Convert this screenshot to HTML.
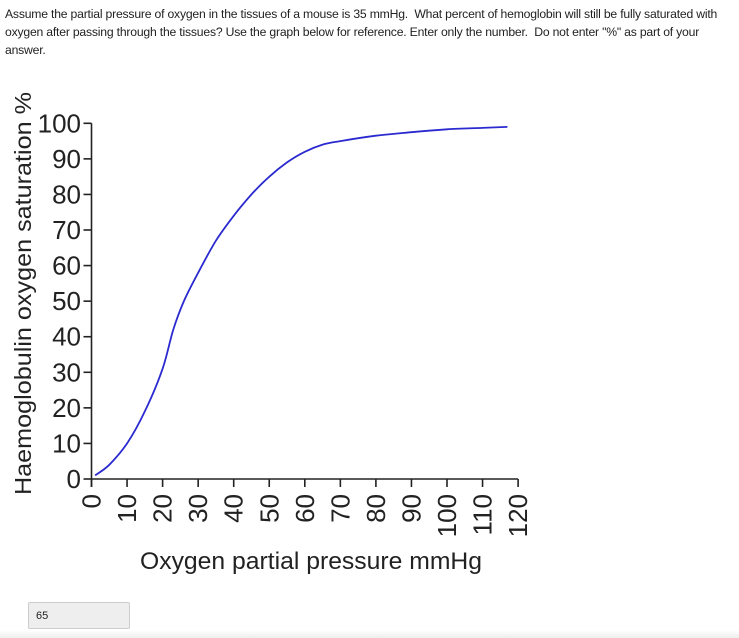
<!DOCTYPE html>
<html><head><meta charset="utf-8"><style>
body{margin:0;background:#fff;width:739px;height:638px;overflow:hidden;position:relative;font-family:"Liberation Sans",sans-serif}
#q{position:absolute;left:5px;top:5px;width:734px;font-size:12.2px;line-height:18px;color:#222;letter-spacing:-0.2px;white-space:nowrap}
#ans{position:absolute;left:28px;top:602px;width:102px;height:27px;background:#eee;border:1px solid #ccc;border-radius:2px;font-size:11px;line-height:27px;box-sizing:border-box;padding-left:7px;color:#222}
#foot{position:absolute;left:0;top:630px;width:739px;height:8px;background:linear-gradient(#fff,#eee)}
</style></head><body>
<div id="q">Assume the partial pressure of oxygen in the tissues of a mouse is 35 mmHg.&nbsp; What percent of hemoglobin will still be fully saturated with<br>oxygen after passing through the tissues? Use the graph below for reference. Enter only the number.&nbsp; Do not enter "%" as part of your<br>answer.</div>
<svg id="chart" width="739" height="638" style="position:absolute;left:0;top:0"></svg>
<div id="ans">65</div>
<div id="foot"></div>
<script>
const xTicks=[0,10,20,30,40,50,60,70,80,90,100,110,120];
const yTicks=[0,10,20,30,40,50,60,70,80,90,100];
const pressure=[1,5,10,15,20,23,26,30,35,40,45,50,55,60,65,70,80,90,100,110,117];
const saturation=[1,4,10,19,31,42,50,58,67,74,80,85,89,92,94,95,96.5,97.5,98.3,98.7,99];
const X=v=>91.5+v*3.555, Y=v=>479-v*3.557;
const NS='http://www.w3.org/2000/svg', svg=document.getElementById('chart');
function mk(t,a,txt){const e=document.createElementNS(NS,t);for(const k in a)e.setAttribute(k,a[k]);if(txt!==undefined)e.textContent=txt;svg.appendChild(e);return e;}
let e;
e=mk('line',{x1:X(0),y1:Y(0),x2:X(120),y2:Y(0),stroke:'#222','stroke-width':1.6});


e=mk('line',{x1:X(0),y1:Y(0)+8,x2:X(0),y2:Y(100),stroke:'#222','stroke-width':1.6});


xTicks.forEach(v=>{
 e=mk('line',{x1:X(v),y1:Y(0),x2:X(v),y2:Y(0)+8,stroke:'#222','stroke-width':1.6});
 
 
 e=mk('text',{x:0,y:0,transform:`translate(${X(v)+9},494) rotate(-90)`,'text-anchor':'end','font-size':26,fill:'#222'},String(v));
 
 
});
yTicks.forEach(v=>{
 e=mk('line',{x1:X(0)-8,y1:Y(v),x2:X(0),y2:Y(v),stroke:'#222','stroke-width':1.6});
 
 
 e=mk('text',{x:81,y:Y(v)+9,'text-anchor':'end','font-size':26,fill:'#222'},String(v));
 
 
});
const P=pressure.map((p,i)=>[X(p),Y(saturation[i])]);
let d='M'+P[0][0].toFixed(1)+','+P[0][1].toFixed(1);
for(let i=0;i<P.length-1;i++){
 const p0=P[Math.max(0,i-1)],p1=P[i],p2=P[i+1],p3=P[Math.min(P.length-1,i+2)];
 const c1=[p1[0]+(p2[0]-p0[0])/6,p1[1]+(p2[1]-p0[1])/6],c2=[p2[0]-(p3[0]-p1[0])/6,p2[1]-(p3[1]-p1[1])/6];
 d+=`C${c1[0].toFixed(1)},${c1[1].toFixed(1)} ${c2[0].toFixed(1)},${c2[1].toFixed(1)} ${p2[0].toFixed(1)},${p2[1].toFixed(1)}`;
}
e=mk('path',{d:d,fill:'none',stroke:'#2a2ad0','stroke-width':1.8,'stroke-linejoin':'round'});


e=mk('text',{x:140,y:569,'font-size':24,fill:'#222',textLength:342,lengthAdjust:'spacingAndGlyphs'},'Oxygen partial pressure mmHg');


e=mk('text',{x:0,y:0,transform:'translate(31,495) rotate(-90)','font-size':23,fill:'#222',textLength:403,lengthAdjust:'spacingAndGlyphs'},'Haemoglobulin oxygen saturation %');


</script>
</body></html>
